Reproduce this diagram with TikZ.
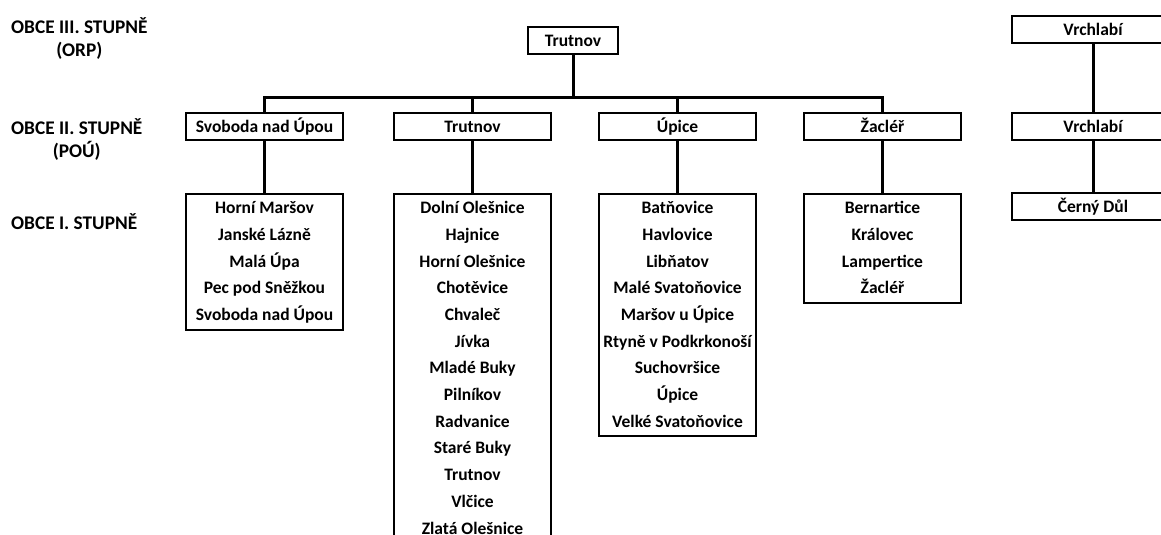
\documentclass[tikz,border=0pt]{standalone}
\usepackage{fontspec}
\setmainfont{Carlito}
\usetikzlibrary{positioning}

\tikzset{
  obecbox/.style={draw, line width=2pt, minimum width=157pt, minimum height=27pt, inner sep=0pt,
    text height=14pt, text depth=2pt},
  seznam/.style={draw, line width=2pt, anchor=north, text width=155pt, align=flush center,
    inner xsep=1pt, inner ysep=1pt, font=\bfseries\fontsize{17.5}{26.7}\selectfont,
    execute at begin node=\strut, execute at end node=\strut},
  vazba/.style={line width=3pt},
  stupen/.style={anchor=west, align=flush center, inner sep=0pt, font=\bfseries\fontsize{19.3}{23}\selectfont}
}

\begin{document}
\begin{tikzpicture}[x=1pt, y=-1pt, every node/.style={font=\bfseries\fontsize{17.5}{20}\selectfont}]
  \useasboundingbox (0,0) rectangle (1161,535);
  % popisky stupnu
  \node[stupen] (st3) at (11,38.5) {OBCE III. STUPNĚ\\(ORP)};
  \node[stupen] (st2) at (11,139.5) {OBCE II. STUPNĚ\\(POÚ)};
  \node[stupen] (st1) at (11,222) {OBCE I. STUPNĚ};
  % ORP Trutnov
  \node[obecbox, minimum width=90pt] (orp) at (573,41) {Trutnov};
  \coordinate (sbernice) at (0,97);
  \node[obecbox] (pouSv) at (264.5,126) {Svoboda nad Úpou};
  \node[obecbox] (pouTr) at (472.5,126) {Trutnov};
  \node[obecbox] (pouUp) at (677.5,126) {Úpice};
  \node[obecbox] (pouZa) at (882.5,126) {Žacléř};
  \node[seznam] (obSv) at (264.5,193) {Horní Maršov\\Janské Lázně\\Malá Úpa\\Pec pod Sněžkou\\Svoboda nad Úpou};
  \node[seznam] (obTr) at (472.5,193) {Dolní Olešnice\\Hajnice\\Horní Olešnice\\Chotěvice\\Chvaleč\\Jívka\\Mladé Buky\\Pilníkov\\Radvanice\\Staré Buky\\Trutnov\\Vlčice\\Zlatá Olešnice};
  \node[seznam] (obUp) at (677.5,193) {Batňovice\\Havlovice\\Libňatov\\Malé Svatoňovice\\Maršov u Úpice\\Rtyně v Podkrkonoší\\Suchovršice\\Úpice\\Velké Svatoňovice};
  \node[seznam] (obZa) at (882.5,193) {Bernartice\\Královec\\Lampertice\\Žacléř};
  \draw[vazba] (orp.south) -- (orp.south |- sbernice);
  \draw[vazba] (pouSv.north) -- (pouSv.north |- sbernice) -- (pouZa.north |- sbernice) -- (pouZa.north);
  \draw[vazba] (pouTr.north) -- (pouTr.north |- sbernice);
  \draw[vazba] (pouUp.north) -- (pouUp.north |- sbernice);
  \draw[vazba] (pouSv) -- (obSv);
  \draw[vazba] (pouTr) -- (obTr);
  \draw[vazba] (pouUp) -- (obUp);
  \draw[vazba] (pouZa) -- (obZa);
  % ORP Vrchlabi
  \node[obecbox, minimum width=162pt] (orpVr) at (1093,30) {Vrchlabí};
  \node[obecbox, minimum width=162pt] (pouVr) at (1093,126) {Vrchlabí};
  \node[obecbox, minimum width=162pt] (obVr) at (1093,206.5) {Černý Důl};
  \draw[vazba] (orpVr) -- (pouVr);
  \draw[vazba] (pouVr) -- (obVr);
\end{tikzpicture}
\end{document}
